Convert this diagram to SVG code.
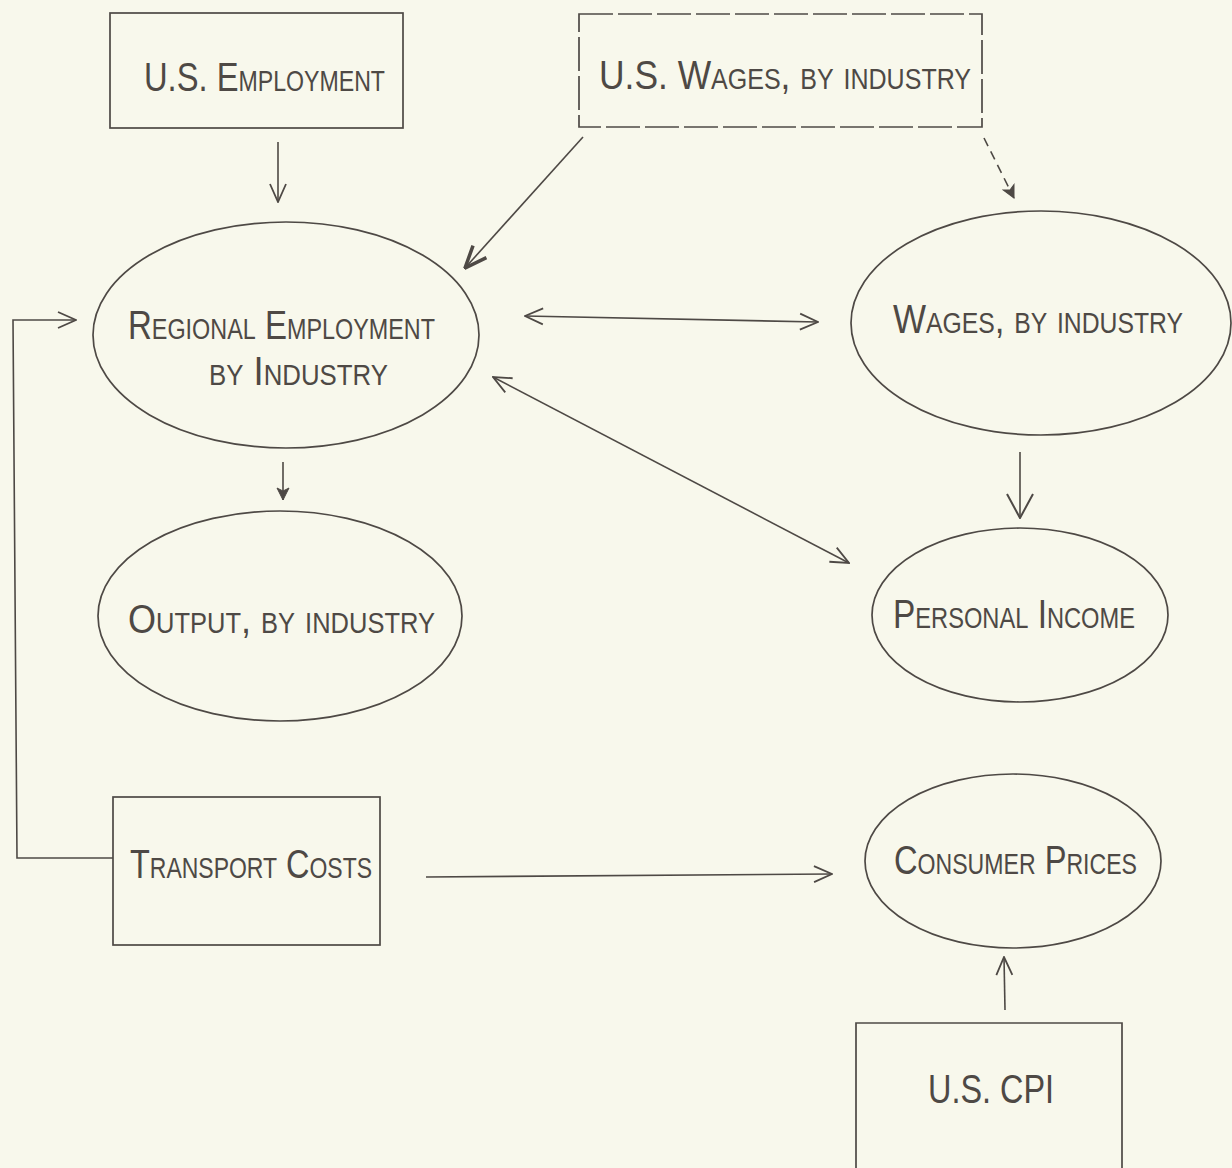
<svg xmlns="http://www.w3.org/2000/svg" width="1232" height="1168" viewBox="0 0 1232 1168">
<defs>
<style>
.bg{fill:#f8f8ec}
.shape{fill:none;stroke:#4e4945;stroke-width:1.7}
.dash{stroke-dasharray:34 5}
.con{fill:none;stroke:#4e4945;stroke-width:1.6}
.lbl{font-family:"Liberation Sans","DejaVu Sans",sans-serif;font-size:41px;font-variant:small-caps;fill:#4e4945}
</style>
<marker id="ah" viewBox="0 0 20 20" refX="19" refY="10" markerWidth="20" markerHeight="20" markerUnits="userSpaceOnUse" orient="auto-start-reverse">
<path d="M1,2 L19,10 L1,18" fill="none" stroke="#4e4945" stroke-width="1.8"/>
</marker>
<marker id="ahL" viewBox="0 0 26 28" refX="25" refY="14" markerWidth="26" markerHeight="28" markerUnits="userSpaceOnUse" orient="auto">
<path d="M1,1 L25,14 L1,27" fill="none" stroke="#4e4945" stroke-width="2"/>
</marker>
<marker id="ahB" viewBox="0 0 24 24" refX="23" refY="12" markerWidth="24" markerHeight="24" markerUnits="userSpaceOnUse" orient="auto">
<path d="M1,3 L23,12 L1,21" fill="none" stroke="#4e4945" stroke-width="3.5"/>
</marker>
<marker id="ahS" viewBox="0 0 14 14" refX="13" refY="7" markerWidth="14" markerHeight="14" markerUnits="userSpaceOnUse" orient="auto">
<path d="M1,1 L13,7 L1,13 L4,7 Z" fill="#4e4945" stroke="#4e4945" stroke-width="1"/>
</marker>
</defs>
<rect class="bg" x="0" y="0" width="1232" height="1168"/>

<g id="connectors">
<line class="con" x1="278" y1="142" x2="278" y2="202" marker-end="url(#ah)"/>
<line class="con" x1="583" y1="137" x2="465" y2="268" marker-end="url(#ahB)"/>
<line class="con" x1="984" y1="138" x2="1014" y2="198" stroke-dasharray="9 6" marker-end="url(#ahS)"/>
<polyline class="con" points="113,858 17,858 13,320 76,320" marker-end="url(#ah)"/>
<line class="con" x1="525" y1="316" x2="818" y2="322" marker-start="url(#ah)" marker-end="url(#ah)"/>
<line class="con" x1="493" y1="377" x2="849" y2="563" marker-start="url(#ah)" marker-end="url(#ah)"/>
<line class="con" x1="283" y1="462" x2="283" y2="500" marker-end="url(#ahS)"/>
<line class="con" x1="1020" y1="452" x2="1020" y2="518" marker-end="url(#ahL)"/>
<line class="con" x1="426" y1="877" x2="832" y2="874" marker-end="url(#ah)"/>
<line class="con" x1="1005" y1="1010" x2="1004" y2="957" marker-end="url(#ah)"/>
</g>

<g id="us-employment">
<rect class="shape" x="110" y="13" width="293" height="115"/>
<text class="lbl" x="144" y="91" textLength="241" lengthAdjust="spacingAndGlyphs">U.S. Employment</text>
</g>

<g id="us-wages">
<rect class="shape dash" x="579" y="14" width="403" height="113"/>
<text class="lbl" x="599" y="89" textLength="372" lengthAdjust="spacingAndGlyphs">U.S. Wages, by industry</text>
</g>

<g id="regional-employment">
<ellipse class="shape" cx="286" cy="335" rx="193" ry="113"/>
<text class="lbl" x="128" y="339" textLength="307" lengthAdjust="spacingAndGlyphs">Regional Employment</text>
<text class="lbl" x="209" y="385" textLength="179" lengthAdjust="spacingAndGlyphs">by Industry</text>
</g>

<g id="wages">
<ellipse class="shape" cx="1041" cy="323" rx="190" ry="112"/>
<text class="lbl" x="893" y="333" textLength="290" lengthAdjust="spacingAndGlyphs">Wages, by industry</text>
</g>

<g id="output">
<ellipse class="shape" cx="280" cy="616" rx="182" ry="105"/>
<text class="lbl" x="128" y="633" textLength="307" lengthAdjust="spacingAndGlyphs">Output, by industry</text>
</g>

<g id="personal-income">
<ellipse class="shape" cx="1020" cy="615" rx="148" ry="87"/>
<text class="lbl" x="893" y="628" textLength="242" lengthAdjust="spacingAndGlyphs">Personal Income</text>
</g>

<g id="transport-costs">
<rect class="shape" x="113" y="797" width="267" height="148"/>
<text class="lbl" x="130" y="878" textLength="242" lengthAdjust="spacingAndGlyphs">Transport Costs</text>
</g>

<g id="consumer-prices">
<ellipse class="shape" cx="1013" cy="861" rx="148" ry="87"/>
<text class="lbl" x="894" y="874" textLength="243" lengthAdjust="spacingAndGlyphs">Consumer Prices</text>
</g>

<g id="us-cpi">
<path class="shape" d="M856,1168 L856,1023 L1122,1023 L1122,1168"/>
<text class="lbl" x="928" y="1103" textLength="126" lengthAdjust="spacingAndGlyphs">U.S. CPI</text>
</g>
</svg>
